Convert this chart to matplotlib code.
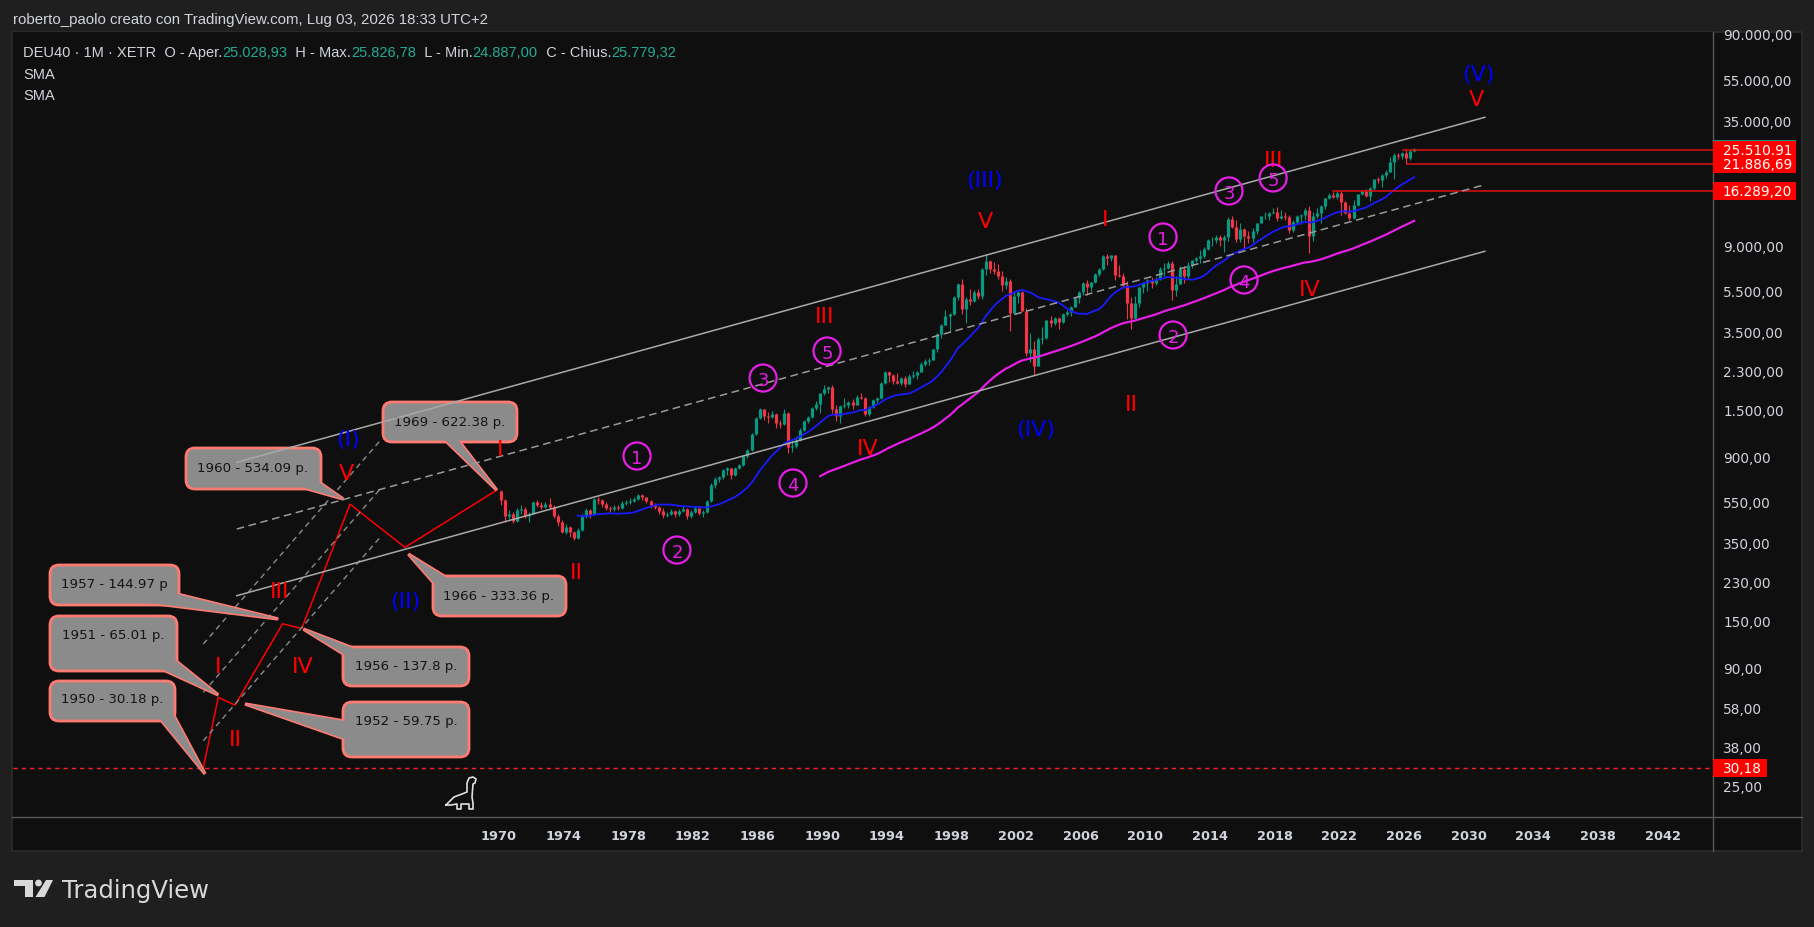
import numpy as np
import pandas as pd
import matplotlib
matplotlib.use("Agg")
import matplotlib.pyplot as plt
import matplotlib.transforms as mtransforms
from matplotlib.patches import FancyBboxPatch, Polygon, Rectangle, Circle
from matplotlib.lines import Line2D
from matplotlib.ticker import NullLocator

# ------------------------------------------------------------------ data
# DEU40 quarterly candles (open = previous close), 1970Q1 .. 2026Q3
first_year = 1970
first_open = 615.0
q_close = [
    560, 470, 480, 444,  500, 505, 470, 481,  545, 530, 520, 536,  520, 470, 440, 396,
    415, 395, 370, 402,  470, 500, 480, 563,  560, 535, 515, 509,  520, 510, 540, 549,
    555, 565, 590, 575,  555, 530, 520, 498,  475, 480, 495, 481,  495, 505, 470, 490,
    510, 485, 490, 553,  660, 700, 715, 774,  790, 735, 795, 821,  900, 960, 1150, 1366,
    1500, 1400, 1380, 1432,  1300, 1280, 1450, 1000,  1010, 1080, 1200, 1328,  1380, 1520, 1600, 1790,
    1880, 1910, 1500, 1398,  1550, 1580, 1620, 1578,  1720, 1700, 1420, 1545,  1670, 1700, 2000, 2267,
    2180, 2050, 2000, 2107,  1990, 2150, 2180, 2254,  2450, 2550, 2580, 2889,  3400, 3780, 4150, 4250,
    5100, 5900, 4500, 5002,  4900, 5380, 5150, 6958,  7600, 6900, 6800, 6434,  5830, 6060, 4310, 5160,
    5400, 4380, 2770, 2893,  2420, 3220, 3260, 3965,  3860, 4050, 3890, 4256,  4350, 4590, 5040, 5408,
    5970, 5680, 6000, 6597,  6920, 8000, 7860, 8067,  6530, 6420, 5830, 4810,  4080, 4810, 5680, 5957,
    6150, 5970, 6230, 6914,  7040, 7380, 5500, 5898,  6950, 6420, 7220, 7612,  7800, 7960, 8590, 9552,
    9560, 9830, 9470, 9806,  11970, 10940, 9660, 10743,  9970, 9680, 10510, 11481,  12310, 12330, 12830, 12918,
    12100, 12310, 12250, 10559,  11530, 12400, 12430, 13249,  9940, 12310, 12760, 13719,  15010, 15530, 15260, 15885,
    14410, 12780, 12110, 13924,  15630, 16150, 15390, 16752,  18490, 18240, 19320, 19909,  22160, 23910, 23880, 24490,
    23300, 25029, 25779.32,
]
q_high = [
    625, 565, 500, 490,  510, 530, 520, 490,  555, 560, 545, 545,  570, 530, 480, 450,
    430, 420, 400, 410,  480, 510, 505, 570,  580, 565, 545, 525,  530, 530, 550, 560,
    570, 575, 600, 600,  580, 560, 540, 525,  510, 490, 505, 500,  505, 525, 510, 500,
    525, 515, 500, 560,  670, 720, 730, 780,  800, 795, 805, 830,  910, 970, 1160, 1380,
    1520, 1510, 1460, 1480,  1440, 1340, 1500, 1460,  1080, 1120, 1230, 1340,  1400, 1540, 1640, 1800,
    1960, 1930, 1950, 1570,  1580, 1700, 1650, 1680,  1750, 1800, 1720, 1560,  1690, 1720, 2020, 2280,
    2270, 2200, 2240, 2130,  2150, 2200, 2270, 2290,  2510, 2590, 2620, 2910,  3450, 3800, 4450, 4300,
    5140, 5950, 6220, 5110,  5560, 5530, 5600, 7000,  8140, 7670, 7480, 7320,  6790, 6370, 6190, 5460,
    5470, 5470, 4520, 3450,  3160, 3290, 3680, 3980,  4160, 4100, 4090, 4270,  4420, 4630, 5070, 5460,
    6000, 6160, 6050, 6630,  7040, 8080, 8150, 8100,  8100, 7230, 6650, 6080,  5110, 5140, 5700, 6030,
    6190, 6340, 6390, 7080,  7440, 7530, 7600, 6430,  7190, 7190, 7480, 7690,  7870, 8560, 8770, 9620,
    9800, 10050, 10030, 10100,  12220, 12390, 11800, 11430,  10800, 10470, 10800, 11490,  12320, 12950, 12960, 13530,
    13600, 13200, 12890, 12460,  11820, 12440, 12660, 13420,  13800, 12950, 13460, 13900,  15030, 15800, 16030, 16290,
    16290, 14590, 13950, 14680,  15700, 16430, 16530, 16970,  18570, 18890, 19490, 20520,  23480, 24480, 24640, 24770,
    25510.91, 25400, 25826.78,
]
q_low = [
    530, 440, 455, 435,  440, 480, 460, 440,  478, 520, 505, 510,  505, 460, 420, 390,
    385, 375, 360, 365,  398, 460, 460, 475,  535, 520, 500, 490,  495, 500, 505, 530,
    535, 545, 560, 560,  540, 515, 505, 480,  460, 465, 475, 465,  470, 490, 455, 460,
    485, 475, 465, 485,  545, 640, 680, 700,  735, 700, 725, 780,  810, 880, 950, 1130,
    1350, 1340, 1300, 1360,  1230, 1230, 1260, 930,  940, 990, 1060, 1190,  1290, 1370, 1490, 1450,
    1750, 1800, 1450, 1320,  1290, 1530, 1520, 1500,  1570, 1680, 1400, 1390,  1520, 1610, 1690, 1980,
    2020, 1980, 1990, 1950,  1910, 1980, 2110, 2100,  2250, 2400, 2440, 2560,  2820, 3270, 3760, 3480,
    4200, 4950, 4230, 3830,  4660, 4860, 4980, 5020,  6480, 6620, 6540, 6200,  5460, 5560, 3540, 4300,
    4800, 4370, 2700, 2520,  2190, 2400, 3050, 3240,  3690, 3760, 3620, 3850,  4160, 4150, 4570, 4780,
    5250, 5240, 5480, 5960,  6440, 6860, 7260, 7540,  6170, 6390, 5660, 4010,  3590, 3970, 4570, 5350,
    5430, 5610, 5800, 6130,  6460, 6960, 4970, 5140,  5890, 5970, 6240, 7040,  7520, 7420, 7800, 8570,
    8900, 9160, 8900, 8350,  9380, 10800, 9340, 9320,  8700, 9210, 9300, 10170,  11400, 11950, 11870, 12820,
    11730, 12000, 11860, 10280,  10400, 11270, 11270, 11830,  8260, 9390, 12050, 11450,  13310, 14800, 15000, 14820,
    12440, 12610, 11860, 11970,  13790, 15480, 15210, 14630,  16350, 17630, 17020, 18800,  19870, 18490, 23130, 23000,
    21886.69, 22800, 24887.00,
]
header_ohlc = ["25.028,93", "25.826,78", "24.887,00", "25.779,32"]

sma_fast_len = 20   # quarters  (~60 months)
sma_slow_len = 80   # quarters  (~240 months)

# Elliott sketch before 1970 (zigzag vertices)
zig_years = [1951.70, 1952.63, 1953.66, 1956.61, 1957.79, 1960.78, 1964.18, 1969.86]
zig_values = [30.18, 65.01, 59.75, 144.97, 137.8, 534.09, 333.36, 622.38]

# parallel channel (upper / dashed middle / lower)
chan_years = [1953.77, 2031.0]
chan_upper = [843.1, 36260]
chan_mid = [407.4, 17390]
chan_lower = [196.9, 8413]

# small dashed fan in the 1950s
fan_years = [1951.70, 1962.64]
fan_1 = [116.3, 1067]
fan_2 = [68.7, 630]
fan_3 = [40.5, 372]

# horizontal levels
level_values = [25510.91, 21886.69, 16289.20]
level_start = [2025.94, 2026.19, 2021.63]
level_labels = ["25.510.91", "21.886,69", "16.289,20"]
base_value = 30.18
base_label = "30,18"
last_close = 25779.32

# wave labels
red_txt = ["I", "II", "III", "IV", "V", "I", "II", "III", "IV", "V",
           "I", "II", "III", "IV", "V"]
red_years = [1970.06, 1974.76, 1990.17, 1992.83, 2000.07, 2007.50, 2009.11, 2017.96, 2020.19, 2030.46,
             1952.59, 1953.66, 1956.45, 1957.85, 1960.58]
red_values = [996, 260.5, 4246, 1007, 11960, 12230, 1627, 23260, 5700, 45240,
              93.5, 42.2, 211.8, 93.5, 766.8]
blue_txt = ["(I)", "(II)", "(III)", "(IV)", "(V)"]
blue_years = [1960.66, 1964.18, 2000.01, 2003.23, 2030.58]
blue_values = [1111, 189.9, 18710, 1239, 59400]
mag_txt = ["1", "2", "3", "4", "5", "1", "2", "3", "4", "5"]
mag_years = [1978.54, 1981.01, 1986.34, 1988.19, 1990.30, 2011.09, 2011.71, 2015.17, 2016.10, 2017.90]
mag_values = [903, 324, 2113, 672.9, 2837, 9830, 3378, 16240, 6155, 18710]

# callouts
co_texts = ["1969 - 622.38 p.", "1960 - 534.09 p.", "1966 - 333.36 p.", "1957 - 144.97 p",
            "1951 - 65.01 p.", "1950 - 30.18 p.", "1956 - 137.8 p.", "1952 - 59.75 p."]
co_tip_years = [1969.86, 1960.36, 1964.39, 1956.34, 1952.63, 1951.81, 1957.89, 1954.28]
co_tip_values = [622.38, 565, 310, 152.8, 66.7, 28.2, 136.9, 60.5]

y_ticks = [25, 38, 58, 90, 150, 230, 350, 550, 900, 1500, 2300, 3500, 5500, 9000,
           35000, 55000, 90000]
x_ticks = list(range(1970, 2043, 4))

# ------------------------------------------------------------------ layout / style
W, H = 1815, 928
BG = "#1f1f1f"
PANEL = "#0f0f0f"
TXT = "#d1d4dc"
UP = "#089981"
DOWN = "#f23645"
RED = "#ff0000"
BLUE = "#0000ff"
MAG = "#e61ee6"
BOX_FC = "#8b8b8b"
BOX_EC = "#ff7b72"

# callout layout in pixels (left, top, right, bottom), tail bases, text centre
co_boxes = [(383, 403, 517, 443), (186, 449, 321, 490), (433, 577, 566, 617), (50, 566, 179, 606),
            (50, 617, 177, 672), (50, 682, 175, 722), (343, 648, 469, 687), (343, 703, 469, 758)]
co_bases = [((440, 443), (458, 443)), ((306, 490), (321, 482)), ((442, 577), (433, 588)),
            ((179, 595), (150, 606)), ((177, 660), (165, 672)), ((175, 710), (165, 722)),
            ((350, 648), (343, 657)), ((343, 722), (343, 742))]
co_text_pos = [(450, 423), (253, 469), (499, 597), (114, 585), (113, 636), (112, 700),
               (406, 667), (406, 722)]

fig = plt.figure(figsize=(W / 100, H / 100), dpi=100, facecolor=BG)
ident = mtransforms.IdentityTransform()


def P(x, y):
    """pixel (top-left origin) -> display coords"""
    return (x, H - y)


# chart panel
fig.patches.append(Rectangle(P(12, 852), 1790, 819, transform=ident, facecolor=PANEL,
                             edgecolor="#2c2c2c", lw=1.2, zorder=-5))

ax = fig.add_axes([12.6 / W, 1 - 818 / H, (1713 - 12.6) / W, (818 - 33) / H])
ax.set_facecolor(PANEL)
ax.set_yscale("log")
ax.set_xlim(1939.90, 2045.12)
ax.set_ylim(17.64, 91880)
ax.set_autoscale_on(False)
for s in ax.spines.values():
    s.set_visible(False)

# ticks
ax.yaxis.tick_right()
ax.yaxis.set_minor_locator(NullLocator())
ax.set_yticks(y_ticks)
ax.set_yticklabels([f"{v:,.2f}".replace(",", "X").replace(".", ",").replace("X", ".") for v in y_ticks])
ax.tick_params(axis="y", length=0, pad=7.5, labelsize=9.8, labelcolor=TXT)
ax.set_xticks(x_ticks)
ax.set_xticklabels([str(v) for v in x_ticks])
ax.tick_params(axis="x", length=0, pad=9, labelsize=9.3, labelcolor=TXT)
for t in ax.get_xticklabels():
    t.set_fontweight("bold")

# separators
fig.lines.append(Line2D([12, 1802], [H - 818, H - 818], transform=ident, color="#5a5a5a", lw=1, zorder=3))
fig.lines.append(Line2D([1713, 1713], [H - 33, H - 852], transform=ident, color="#5a5a5a", lw=1, zorder=3))

# ------------------------------------------------------------------ candles
close = np.array(q_close, float)
high = np.array(q_high, float)
low = np.array(q_low, float)
opn = np.concatenate([[first_open], close[:-1]])
qx = first_year + 0.125 + 0.25 * np.arange(len(close))
cols = np.where(close >= opn, UP, DOWN)
ax.vlines(qx, low, high, colors=cols, lw=0.8, zorder=2)
ax.vlines(qx, np.minimum(opn, close), np.maximum(opn, close), colors=cols, lw=2.3, zorder=2.1)

s = pd.Series(close)
ax.plot(qx, s.rolling(sma_fast_len).mean(), color="#1a1aff", lw=1.3, zorder=2.6)
ax.plot(qx, s.rolling(sma_slow_len).mean(), color=MAG, lw=1.6, zorder=2.6)

# ------------------------------------------------------------------ drawings
ax.axhline(base_value, color="#ff1f1f", lw=1.0, ls=(0, (3, 3)), zorder=2.5)
for v, x0 in zip(level_values, level_start):
    ax.plot([x0, ax.get_xlim()[1]], [v, v], color="#e01010", lw=1.1, zorder=2.7)

ax.plot(zig_years, zig_values, color=RED, lw=1.1, zorder=2.8)
for fan in (fan_1, fan_2, fan_3):
    ax.plot(fan_years, fan, color="#8a8a8a", lw=1.0, ls=(0, (4, 3)), zorder=2.8)

# callouts
for txt, tx, tv, box, bases, tpos in zip(co_texts, co_tip_years, co_tip_values,
                                          co_boxes, co_bases, co_text_pos):
    L, T, R, B = box
    cx, cy = (L + R) / 2, (T + B) / 2
    tip = ax.transData.transform((tx, tv))
    pts = []
    for bx, by in bases:
        dx, dy = cx - bx, cy - by
        n = max(np.hypot(dx, dy), 1)
        pts.append(P(bx + 5 * dx / n, by + 5 * dy / n))
    tri = [pts[0], tuple(tip), pts[1]]
    ax.add_patch(Polygon(tri, closed=True, transform=ident, fc=BOX_FC, ec=BOX_EC, lw=2.4,
                         zorder=3.0, joinstyle="miter"))
    ax.add_patch(FancyBboxPatch(P(L, B), R - L, B - T, boxstyle="round,pad=0,rounding_size=9",
                                transform=ident, fc=BOX_FC, ec=BOX_EC, lw=2.0, zorder=3.05))
    ax.add_patch(Polygon(tri, closed=True, transform=ident, fc=BOX_FC, ec="none", zorder=3.1))
    ax.text(*P(*tpos), txt, transform=ident, fontsize=9.6, color="#141414", ha="center",
            va="center", zorder=3.2, family="DejaVu Sans")

# channel (drawn over callouts)
ax.plot(chan_years, chan_upper, color="#a9a9a9", lw=1.1, zorder=4)
ax.plot(chan_years, chan_lower, color="#a9a9a9", lw=1.1, zorder=4)
ax.plot(chan_years, chan_mid, color="#9a9a9a", lw=1.1, ls=(0, (5, 3)), zorder=4)

# wave labels
for t, x, v in zip(red_txt, red_years, red_values):
    ax.text(x, v, t, color=RED, fontsize=16, ha="center", va="center_baseline", zorder=6)
for t, x, v in zip(blue_txt, blue_years, blue_values):
    ax.text(x, v, t, color=BLUE, fontsize=16, ha="center", va="center_baseline", zorder=6)
ax.scatter(mag_years, mag_values, s=380, facecolors="none", edgecolors=MAG, linewidths=1.6, zorder=6)
for t, x, v in zip(mag_txt, mag_years, mag_values):
    ax.text(x, v, t, color=MAG, fontsize=13, ha="center", va="center_baseline", zorder=6.1)

# ------------------------------------------------------------------ price labels on the axis


def price_tag(value, text, color, width=83, z=10):
    yd = ax.transData.transform((2000, value))[1]
    fig.patches.append(Rectangle((1713, yd - 9), width, 18, transform=ident, fc=color, ec="none", zorder=z))
    if text:
        fig.text(1723 / W, yd / H, text, color="white", fontsize=9.8, va="center", ha="left",
                 zorder=z + 0.5)


price_tag(last_close, "", UP, z=9)
price_tag(level_values[0], level_labels[0], "#ff0000", z=10)
price_tag(level_values[1], level_labels[1], "#ff0000", z=11)
price_tag(level_values[2], level_labels[2], "#ff0000", z=12)
price_tag(base_value, base_label, "#ff0000", width=54, z=13)

# ------------------------------------------------------------------ header & legend
fig.text(13 / W, 1 - 20 / H, "roberto_paolo creato con TradingView.com, Lug 03, 2026 18:33 UTC+2",
         color=TXT, fontsize=10.8, family="Liberation Sans", va="center", ha="left")

renderer = fig.canvas.get_renderer()


def text_run(x_px, y_px, pieces, size=10.5, family="Liberation Sans"):
    x = x_px
    for st, col in pieces:
        t = fig.text(x / W, 1 - y_px / H, st, color=col, fontsize=size, family=family,
                     va="center", ha="left")
        x += t.get_window_extent(renderer).width


TEAL = "#22ab94"
text_run(23, 53, [("DEU40 · 1M · XETR  O - Aper.", TXT), (header_ohlc[0], TEAL),
                  ("  H - Max.", TXT), (header_ohlc[1], TEAL),
                  ("  L - Min.", TXT), (header_ohlc[2], TEAL),
                  ("  C - Chius.", TXT), (header_ohlc[3], TEAL)])
fig.text(23 / W, 1 - 75 / H, "SMA", color=TXT, fontsize=10.5, family="Liberation Sans", va="center")
fig.text(23 / W, 1 - 96 / H, "SMA", color=TXT, fontsize=10.5, family="Liberation Sans", va="center")

# dinosaur marker (first-bar icon)
dino = [(0, 28), (8, 20), (16, 17), (21, 15), (21, 6), (23, 1), (27, 0), (30, 2), (29, 6),
        (27, 7), (26, 20), (27, 26), (27, 32), (23, 32), (23, 27), (15, 27), (15, 32),
        (11, 32), (11, 27), (5, 28), (0, 28)]
fig.lines.append(Line2D([446 + a for a, b in dino], [H - (778 + b) for a, b in dino],
                        transform=ident, color="#e0e0e0", lw=1.2, zorder=5))

# TradingView logo
LOGO = "#d9d9d9"
fig.patches.append(Polygon([P(14, 881), P(33, 881), P(33, 898), P(25, 898), P(25, 887), P(14, 887)],
                           closed=True, transform=ident, fc=LOGO, ec="none", zorder=5))
fig.patches.append(Circle(P(38.5, 884), 3.4, transform=ident, fc=LOGO, ec="none", zorder=5))
fig.patches.append(Polygon([P(35.5, 898), P(44.5, 898), P(53, 881), P(46, 881)],
                           closed=True, transform=ident, fc=LOGO, ec="none", zorder=5))
fig.text(62 / W, 1 - 891 / H, "TradingView", color=LOGO, fontsize=17.5, va="center", ha="left",
         family="DejaVu Sans")

fig.savefig("out.png", dpi=100, facecolor=fig.get_facecolor())
